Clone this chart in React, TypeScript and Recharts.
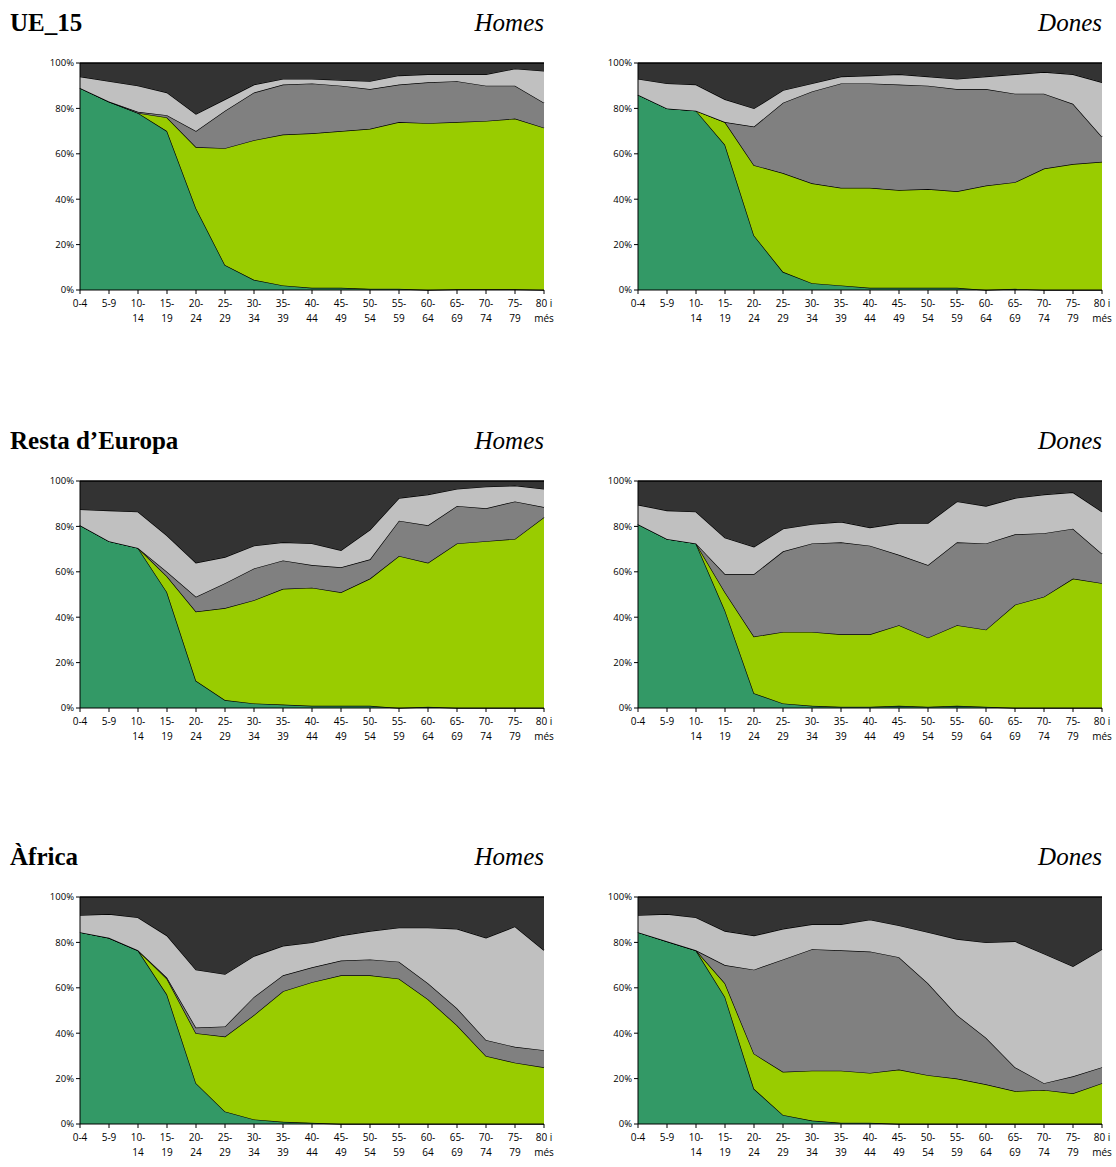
import React from "react";
import { AreaChart, Area, XAxis, YAxis } from "recharts";

const ages = ["0-4", "5-9", "10-14", "15-19", "20-24", "25-29", "30-34", "35-39", "40-44", "45-49", "50-54", "55-59", "60-64", "65-69", "70-74", "75-79", "80 i més"];

// cumulative upper boundaries (%) of each layer
const ueHomesGreen = [89, 83, 78, 70, 36, 11, 4.5, 2, 1, 1, 0.5, 0.5, 0, 0.3, 0.3, 0.3, 0];
const ueHomesYellow = [89, 83, 78, 76, 63, 62.5, 66, 68.5, 69, 70, 71, 74, 73.5, 74, 74.5, 75.5, 71.5];
const ueHomesGray = [89, 83, 78.5, 77, 70, 79, 87, 90.5, 91, 90, 88.5, 90.5, 91.5, 92, 90, 90, 82.5];
const ueHomesLight = [94, 92, 90, 87, 77.5, 84, 90.5, 93, 93, 92.5, 92, 94.5, 95, 95, 95, 97.5, 96.5];

const ueDonesGreen = [86, 80, 79, 64, 24, 8, 3, 2, 1, 1, 1, 1, 0, 0.5, 0, 0, 0];
const ueDonesYellow = [86, 80, 79, 74, 55, 51.5, 47, 45, 45, 44, 44.5, 43.5, 46, 47.5, 53.5, 55.5, 56.5];
const ueDonesGray = [86, 80, 79, 74, 72, 82.5, 87.5, 91, 91, 90.5, 90, 88.5, 88.5, 86.5, 86.5, 82, 67.5];
const ueDonesLight = [93, 91, 90.5, 84, 80, 88, 91, 94, 94.5, 95, 94, 93, 94, 95, 96, 95, 91.5];

const euHomesGreen = [80.5, 73.5, 70.5, 51, 12, 3.5, 2, 1.5, 1, 1, 1, 0, 0.5, 0, 0, 0, 0];
const euHomesYellow = [80.5, 73.5, 70.5, 58, 42.5, 44, 47.5, 52.5, 53, 51, 57, 67, 64, 72.5, 73.5, 74.5, 84];
const euHomesGray = [80.5, 73.5, 70.5, 60, 49, 55, 61.5, 65, 63, 62, 65.5, 82.5, 80.5, 89, 88, 91, 88.5];
const euHomesLight = [87.5, 87, 86.5, 76, 64, 66.5, 71.5, 73, 72.5, 69.5, 78.5, 92.5, 94, 96.5, 97.5, 98, 96.5];

const euDonesGreen = [81, 74.5, 72.5, 43, 6.5, 2, 1, 0.5, 0.5, 1, 0.5, 1, 0.5, 0, 0, 0, 0];
const euDonesYellow = [81, 74.5, 72.5, 51, 31.5, 33.5, 33.5, 32.5, 32.5, 36.5, 31, 36.5, 34.5, 45.5, 49, 57, 55];
const euDonesGray = [81, 74.5, 72.5, 59, 59, 69, 72.5, 73, 71.5, 67.5, 63, 73, 72.5, 76.5, 77, 79, 68];
const euDonesLight = [89.5, 87, 86.5, 75, 71, 79, 81, 82, 79.5, 81.5, 81.5, 91, 89, 92.5, 94, 95, 86.5];

const afHomesGreen = [84.5, 82, 76.5, 57, 18, 5.5, 2, 1, 0.5, 0, 0, 0, 0, 0, 0, 0, 0];
const afHomesYellow = [84.5, 82, 76.5, 64, 40, 38.5, 48, 58.5, 62.5, 65.5, 65.5, 64, 55, 43.5, 30, 27, 25];
const afHomesGray = [84.5, 82, 76.5, 64.5, 42.5, 43, 56, 65.5, 69, 72, 72.5, 71.5, 62, 51, 37, 34, 32.5];
const afHomesLight = [92, 92.5, 91, 83, 68, 66, 74, 78.5, 80, 83, 85, 86.5, 86.5, 86, 82, 87, 76.5];

const afDonesGreen = [84.5, 80.5, 76.5, 56, 15.5, 4, 1.5, 0.5, 0.5, 0, 0, 0, 0, 0, 0, 0, 0];
const afDonesYellow = [84.5, 80.5, 76.5, 62, 31, 23, 23.5, 23.5, 22.5, 24, 21.5, 20, 17.5, 14.5, 15, 13.5, 18];
const afDonesGray = [84.5, 80.5, 76.5, 70, 68, 72.5, 77, 76.5, 76, 73.5, 62, 48, 38, 25, 18, 21, 25];
const afDonesLight = [92, 92.5, 91, 85, 83, 86, 88, 88, 90, 87.5, 84.5, 81.5, 80, 80.5, 75, 69.5, 77];

const yTicks = [0, 20, 40, 60, 80, 100];
const colors = { a: "#339966", b: "#99CC00", c: "#808080", d: "#C0C0C0", e: "#333333" };

function build(g: number[], y: number[], gr: number[], l: number[]) {
  return ages.map((age, i) => ({
    age,
    a: g[i],
    b: y[i] - g[i],
    c: gr[i] - y[i],
    d: l[i] - gr[i],
    e: 100 - l[i],
  }));
}

const AgeTick = (props: any) => {
  const { x, y, payload } = props;
  const v: string = payload.value;
  let l1 = v, l2 = "";
  if (v.startsWith("80")) { l1 = "80 i"; l2 = "més"; }
  else if (v !== "0-4" && v !== "5-9") { const p = v.split("-"); l1 = p[0] + "-"; l2 = p[1]; }
  return (
    <g transform={`translate(${x},${y})`}>
      <text x={0} y={11} textAnchor="middle" fontSize={10} fill="#000">{l1}</text>
      {l2 && <text x={0} y={26} textAnchor="middle" fontSize={10} fill="#000">{l2}</text>}
    </g>
  );
};

function Panel({ left, top, title, sub, data }: any) {
  return (
    <div style={{ position: "absolute", left, top, width: 558, height: 340 }}>
      {title && (
        <div style={{ position: "absolute", left: 10, top: 9, fontFamily: "'Liberation Serif', serif", fontWeight: "bold", fontSize: 25 }}>{title}</div>
      )}
      <div style={{ position: "absolute", right: 14, top: 9, fontFamily: "'Liberation Serif', serif", fontStyle: "italic", fontSize: 25 }}>{sub}</div>
      <div style={{ position: "absolute", left: 0, top: 0 }}>
        <AreaChart width={558} height={340} data={data} margin={{ top: 63, right: 14, left: 0, bottom: 10 }} style={{ fontFamily: "'Open Sans', sans-serif" }}>
          <XAxis dataKey="age" interval={0} tick={<AgeTick />} tickSize={4} stroke="#000" height={40} padding={{ left: 0, right: 0 }} />
          <YAxis domain={[0, 100]} ticks={yTicks} tickFormatter={(v: number) => `${v}%`} width={80} tickSize={4} stroke="#000" tick={{ fontSize: 9.5, fill: "#000" }} />
          {(["a", "b", "c", "d", "e"] as const).map((k) => (
            <Area key={k} type="linear" dataKey={k} stackId="1" fill={colors[k]} fillOpacity={1} stroke="#000" strokeWidth={1.3} isAnimationActive={false} />
          ))}
        </AreaChart>
      </div>
    </div>
  );
}

export default function App() {
  return (
    <div style={{ position: "absolute", left: 0, top: 0, width: 1116, height: 1167, background: "#fff" }}>
      <Panel left={0} top={0} title="UE_15" sub="Homes" data={build(ueHomesGreen, ueHomesYellow, ueHomesGray, ueHomesLight)} />
      <Panel left={558} top={0} sub="Dones" data={build(ueDonesGreen, ueDonesYellow, ueDonesGray, ueDonesLight)} />
      <Panel left={0} top={418} title="Resta d’Europa" sub="Homes" data={build(euHomesGreen, euHomesYellow, euHomesGray, euHomesLight)} />
      <Panel left={558} top={418} sub="Dones" data={build(euDonesGreen, euDonesYellow, euDonesGray, euDonesLight)} />
      <Panel left={0} top={834} title="Àfrica" sub="Homes" data={build(afHomesGreen, afHomesYellow, afHomesGray, afHomesLight)} />
      <Panel left={558} top={834} sub="Dones" data={build(afDonesGreen, afDonesYellow, afDonesGray, afDonesLight)} />
    </div>
  );
}
